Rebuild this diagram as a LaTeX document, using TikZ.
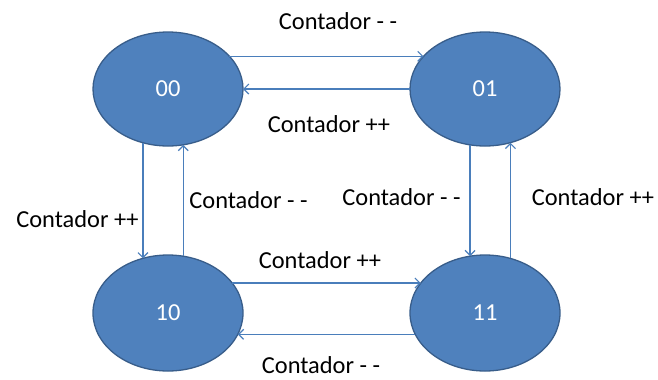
\documentclass[tikz,border=0pt]{standalone}
\usepackage{fontspec}
\setmainfont{Carlito}
\usetikzlibrary{shapes.geometric,arrows.meta}
\definecolor{statefill}{HTML}{4F81BD}
\definecolor{stateedge}{HTML}{385D8A}
\definecolor{linkblue}{HTML}{4A7EBB}
\tikzset{
  state/.style={ellipse, draw=stateedge, line width=1.3bp, fill=statefill,
    minimum width=150bp, minimum height=115bp, inner sep=0pt, outer sep=0pt,
    text=white, font=\fontsize{24.5}{28}\selectfont},
  link/.style={draw=linkblue, line width=1.2bp,
    -{Straight Barb[length=5bp,width=10bp,line width=1.2bp]}},
  lbl/.style={anchor=base, inner sep=0pt, font=\fontsize{24.5}{28}\selectfont}
}
\begin{document}
\begin{tikzpicture}[x=1bp,y=-1bp]
  \useasboundingbox (0,0) rectangle (658,379);

  % states
  \node[state, minimum height=114bp] (n00) at (168,89) {00};
  \node[state, minimum height=114bp] (n01) at (485,89) {01};
  \node[state, minimum height=116bp] (n10) at (168,313) {10};
  \node[state, minimum height=116bp] (n11) at (485,313) {11};

  % horizontal transitions
  \draw[link] (n00.28) -- (n01.152);
  \draw[link] (n01.west) -- (n00.east);
  \draw[link] (n10.25) -- (n11.155);
  \draw[link] (n11.197) -- (n10.-17);

  % vertical transitions
  \draw[link] (n00.245) -- (n00.245 |- n10.115);
  \draw[link] (n10.75) -- (n10.75 |- n00.285);
  \draw[link] (n01.255) -- (n01.255 |- n11.105);
  \draw[link] (n11.65) -- (n11.65 |- n01.295);

  % transition labels
  \node[lbl] (t1) at (338,29) {Contador - -};
  \node[lbl] (t2) at (329,132) {Contador ++};
  \node[lbl] (t3) at (77.5,227) {Contador ++};
  \node[lbl] (t4) at (248.5,208) {Contador - -};
  \node[lbl] (t5) at (401.5,205) {Contador - -};
  \node[lbl] (t6) at (593,205) {Contador ++};
  \node[lbl] (t7) at (320,268) {Contador ++};
  \node[lbl] (t8) at (321,373) {Contador - -};
\end{tikzpicture}
\end{document}
